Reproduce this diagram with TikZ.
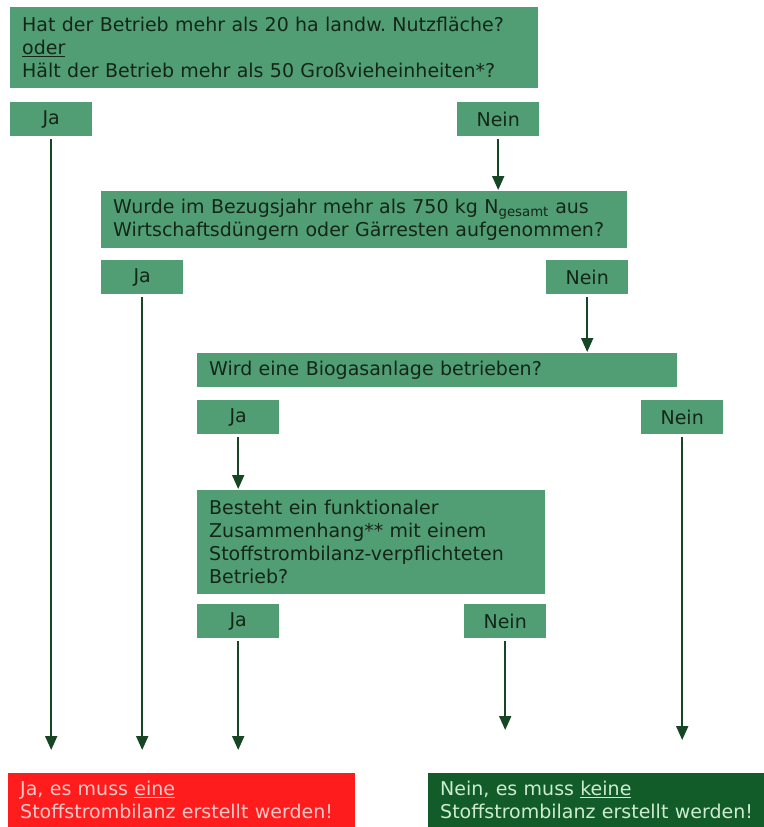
\documentclass[tikz,border=0pt]{standalone}
\usepackage{fontspec}
\setmainfont{DejaVu Sans}
\frenchspacing
\usetikzlibrary{arrows.meta}
\definecolor{boxgreen}{RGB}{82,158,116}
\definecolor{darkgreen}{RGB}{18,92,42}
\definecolor{signalred}{RGB}{255,28,28}
\definecolor{textdark}{RGB}{20,38,24}
\definecolor{arrowgreen}{RGB}{22,70,36}
\definecolor{palered}{RGB}{255,200,200}
\definecolor{palegreen}{RGB}{205,236,205}
\tikzset{
  question/.style={fill=boxgreen, text=textdark, anchor=north west, align=left,
    inner xsep=12pt, inner ysep=0pt, font=\fontsize{19}{23}\selectfont},
  answer/.style={fill=boxgreen, text=textdark, anchor=north west, minimum width=82pt,
    minimum height=34pt, inner sep=0pt, font=\fontsize{19}{23}\selectfont},
  result/.style={anchor=north west, align=left, inner xsep=12pt, inner ysep=0pt,
    minimum height=54pt, font=\fontsize{19}{23}\selectfont},
  flow/.style={arrowgreen, line width=2pt, -{Triangle[width=12pt,length=14pt]}, shorten <=3pt}
}
\begin{document}
\begin{tikzpicture}[x=1pt,y=-1pt]
    \useasboundingbox (0,0) rectangle (763,827);

    % First question
    \node[question, text width=504pt, minimum height=81pt] (q1) at (10,7)
        {Hat der Betrieb mehr als 20 ha landw. Nutzfläche?\\
         \underline{oder}\\
         Hält der Betrieb mehr als 50 Großvieheinheiten*?};
    \node[answer] (ja1) at (10,102) {Ja};
    \node[answer] (nein1) at (457,102) {Nein};

    % Second question
    \node[question, text width=502pt, minimum height=57pt] (q2) at (101,191)
        {Wurde im Bezugsjahr mehr als 750 kg N\textsubscript{gesamt} aus\\
         Wirtschaftsdüngern oder Gärresten aufgenommen?};
    \node[answer] (ja2) at (101,260) {Ja};
    \node[answer] (nein2) at (546,260) {Nein};

    % Third question
    \node[question, text width=456pt, minimum height=34pt] (q3) at (197,353)
        {Wird eine Biogasanlage betrieben?};
    \node[answer] (ja3) at (197,400) {Ja};
    \node[answer] (nein3) at (641,400) {Nein};

    % Fourth question
    \node[question, text width=324pt, minimum height=104pt] (q4) at (197,490)
        {Besteht ein funktionaler\\
         Zusammenhang** mit einem\\
         Stoffstrombilanz-verpflichteten\\
         Betrieb?};
    \node[answer] (ja4) at (197,604) {Ja};
    \node[answer] (nein4) at (464,604) {Nein};

    % Results
    \node[result, fill=signalred, text=palered, text width=323pt] (resja) at (8,773)
        {Ja, es muss \underline{eine}\\
         Stoffstrombilanz erstellt werden!};
    \node[result, fill=darkgreen, text=palegreen, text width=318pt] (resnein) at (428,773)
        {Nein, es muss \underline{keine}\\
         Stoffstrombilanz erstellt werden!};

    \coordinate (endja) at (0,750);
    \coordinate (endnein) at (0,730);
    \coordinate (endbio) at (0,740);

    % Arrows
    \draw[flow, shorten >=1pt] (nein1.south) -- (nein1.south |- q2.north);
    \draw[flow, shorten >=1pt] (nein2.south) -- (nein2.south |- q3.north);
    \draw[flow, shorten >=1pt] (ja3.south) -- (ja3.south |- q4.north);
    \draw[flow] (ja1.south) -- (ja1.south |- endja);
    \draw[flow] (ja2.south) -- (ja2.south |- endja);
    \draw[flow] (ja4.south) -- (ja4.south |- endja);
    \draw[flow] (nein3.south) -- (nein3.south |- endbio);
    \draw[flow] (nein4.south) -- (nein4.south |- endnein);
\end{tikzpicture}
\end{document}
